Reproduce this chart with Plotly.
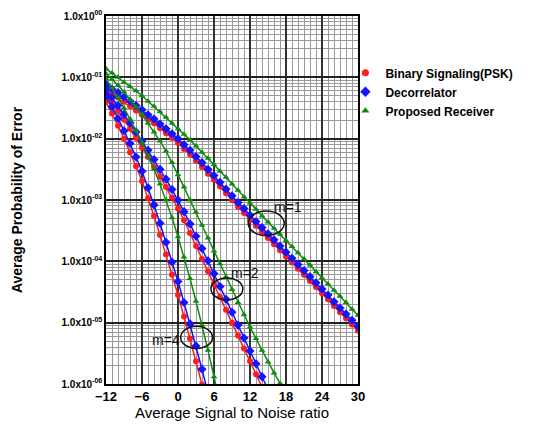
import plotly.graph_objects as go

# SNR grid (dB) for each series
snr_m1 = list(range(-12, 31))
snr_m2_psk = list(range(-12, 15))
snr_m2_dec = list(range(-12, 16))
snr_m2_prop = list(range(-12, 19))
snr_m4_psk = list(range(-12, 5))
snr_m4_dec = list(range(-12, 6))
snr_m4_prop = list(range(-12, 8))

# Average probability of error, read in decades (log10 Pe) from the picture
psk_m1_log = [-1.20, -1.27, -1.33, -1.40, -1.47, -1.54, -1.61, -1.68, -1.75, -1.83,
              -1.91, -1.99, -2.07, -2.17, -2.26, -2.36, -2.46, -2.57, -2.67, -2.78,
              -2.89, -3.00, -3.11, -3.21, -3.32, -3.42, -3.52, -3.62, -3.72, -3.82,
              -3.92, -4.02, -4.12, -4.22, -4.32, -4.42, -4.52, -4.62, -4.73, -4.83,
              -4.93, -5.03, -5.13]
dec_m1_log = [-1.12, -1.19, -1.25, -1.32, -1.39, -1.46, -1.53, -1.61, -1.68, -1.76,
              -1.84, -1.92, -2.00, -2.10, -2.19, -2.29, -2.39, -2.50, -2.60, -2.71,
              -2.82, -2.93, -3.04, -3.14, -3.25, -3.35, -3.45, -3.55, -3.65, -3.75,
              -3.85, -3.95, -4.05, -4.15, -4.25, -4.35, -4.45, -4.55, -4.66, -4.76,
              -4.86, -4.96, -5.06]
prop_m1_log = [-0.86, -0.93, -1.00, -1.08, -1.15, -1.22, -1.30, -1.39, -1.47, -1.56,
               -1.65, -1.75, -1.84, -1.93, -2.02, -2.12, -2.22, -2.32, -2.42, -2.53,
               -2.63, -2.74, -2.84, -2.95, -3.05, -3.15, -3.26, -3.36, -3.46, -3.56,
               -3.66, -3.76, -3.86, -3.96, -4.06, -4.17, -4.27, -4.37, -4.47, -4.57,
               -4.67, -4.78, -4.88]

psk_m2_log = [-1.28, -1.41, -1.55, -1.69, -1.84, -1.99, -2.15, -2.30, -2.46, -2.62,
              -2.79, -2.96, -3.14, -3.33, -3.54, -3.75, -3.96, -4.16, -4.37, -4.58,
              -4.79, -5.00, -5.21, -5.42, -5.63, -5.84, -6.05]
dec_m2_log = [-1.20, -1.33, -1.46, -1.60, -1.74, -1.89, -2.04, -2.19, -2.34, -2.50,
              -2.66, -2.83, -3.00, -3.19, -3.39, -3.59, -3.79, -3.99, -4.20, -4.41,
              -4.62, -4.83, -5.04, -5.25, -5.46, -5.67, -5.88, -6.09]
prop_m2_log = [-0.94, -1.03, -1.13, -1.24, -1.36, -1.48, -1.61, -1.75, -1.89, -2.04,
               -2.20, -2.39, -2.59, -2.79, -3.00, -3.20, -3.41, -3.62, -3.83, -4.04,
               -4.25, -4.46, -4.67, -4.87, -5.07, -5.26, -5.45, -5.64, -5.82, -5.99,
               -6.18]

psk_m4_log = [-1.40, -1.59, -1.79, -2.00, -2.22, -2.45, -2.69, -2.97, -3.26, -3.57,
              -3.89, -4.22, -4.55, -4.90, -5.26, -5.63, -6.01]
dec_m4_log = [-1.30, -1.48, -1.67, -1.87, -2.08, -2.30, -2.53, -2.80, -3.08, -3.38,
              -3.69, -4.01, -4.33, -4.67, -5.02, -5.38, -5.76, -6.15]
prop_m4_log = [-1.02, -1.17, -1.33, -1.50, -1.68, -1.87, -2.07, -2.28, -2.50, -2.74,
               -3.00, -3.29, -3.60, -3.93, -4.28, -4.65, -5.04, -5.45, -5.88, -6.32]

series_names = ["Binary Signaling(PSK)", "Decorrelator", "Proposed Receiver"]
y_tick_vals = [1e0, 1e-1, 1e-2, 1e-3, 1e-4, 1e-5, 1e-6]
y_tick_text = ["1.0x10<sup>00</sup>", "1.0x10<sup>-01</sup>", "1.0x10<sup>-02</sup>",
               "1.0x10<sup>-03</sup>", "1.0x10<sup>-04</sup>", "1.0x10<sup>-05</sup>",
               "1.0x10<sup>-06</sup>"]
x_tick_vals = [-12, -6, 0, 6, 12, 18, 24, 30]

RED, BLUE, GREEN = "#ff1c1c", "#1414ff", "#128a12"
styles = {
    series_names[0]: dict(color=RED, symbol="circle", size=6),
    series_names[1]: dict(color=BLUE, symbol="diamond", size=7),
    series_names[2]: dict(color=GREEN, symbol="triangle-up", size=6),
}

def to_pe(logs):
    return [10 ** v for v in logs]

groups = [
    (series_names[0], [(snr_m1, psk_m1_log), (snr_m2_psk, psk_m2_log), (snr_m4_psk, psk_m4_log)]),
    (series_names[1], [(snr_m1, dec_m1_log), (snr_m2_dec, dec_m2_log), (snr_m4_dec, dec_m4_log)]),
    (series_names[2], [(snr_m1, prop_m1_log), (snr_m2_prop, prop_m2_log), (snr_m4_prop, prop_m4_log)]),
]

fig = go.Figure()
for name, curves in groups:
    st = styles[name]
    for xs, ls in curves:
        fig.add_trace(go.Scatter(
            x=xs, y=to_pe(ls), mode="lines+markers", name=name, legendgroup=name,
            showlegend=False,
            line=dict(color=st["color"], width=1.5),
            marker=dict(color=st["color"], symbol=st["symbol"], size=st["size"]),
        ))
    # legend entry
    fig.add_trace(go.Scatter(
        x=[None], y=[None], mode="markers", name=name, legendgroup=name,
        marker=dict(color=st["color"], symbol=st["symbol"], size=st["size"] + 1),
    ))

FONT = "Liberation Sans, Arial, sans-serif"

# ellipses marking the diversity orders
ellipses = [
    dict(x0=11.7, x1=17.7, y0=10 ** -3.18, y1=10 ** -3.58),
    dict(x0=5.5, x1=10.8, y0=10 ** -4.27, y1=10 ** -4.63),
    dict(x0=0.45, x1=5.75, y0=10 ** -5.06, y1=10 ** -5.42),
]
for e in ellipses:
    fig.add_shape(type="circle", xref="x", yref="y", line=dict(color="#111111", width=1.5), **e)

labels = [("m=1", 18.3, -3.11), ("m=2", 11.2, -4.19), ("m=4", -2.0, -5.28)]
for txt, ax_, ay_ in labels:
    fig.add_annotation(x=ax_, y=ay_, xref="x", yref="y", text=txt, showarrow=False,
                       font=dict(family=FONT, size=14, color="#111111"))

fig.update_layout(
    width=543, height=428,
    margin=dict(l=106, r=185, t=9, b=41),
    paper_bgcolor="white", plot_bgcolor="white",
    font=dict(family=FONT, color="black"),
    showlegend=True,
    legend=dict(x=0.95, y=0.885, xref="paper", yref="paper", xanchor="left", yanchor="top",
                font=dict(family=FONT, size=12, color="black", weight="bold"),
                bgcolor="rgba(0,0,0,0)", itemwidth=30, tracegroupgap=0),
)
fig.update_xaxes(
    range=[-12, 30], tickvals=x_tick_vals, ticks="",
    tickfont=dict(family=FONT, size=13, color="black", weight="bold"),
    showgrid=True, gridcolor="#333333", gridwidth=1.5,
    minor=dict(dtick=1, showgrid=True, gridcolor="#9a9a9a", gridwidth=1, ticks=""),
    showline=True, linecolor="black", linewidth=1.5, mirror=True, zeroline=False,
    title=dict(text="Average Signal to Noise ratio", standoff=4,
               font=dict(family=FONT, size=15, color="black")),
)
fig.update_yaxes(
    type="log", range=[-6, 0], tickvals=y_tick_vals, ticktext=y_tick_text, ticks="",
    tickfont=dict(family=FONT, size=10, color="black", weight="bold"),
    showgrid=True, gridcolor="#222222", gridwidth=1.5,
    minor=dict(dtick="D1", showgrid=True, gridcolor="#9a9a9a", gridwidth=1, ticks=""),
    showline=True, linecolor="black", linewidth=1.5, mirror=True, zeroline=False,
    title=dict(text="<b>Average Probability of Error</b>", standoff=36,
               font=dict(family=FONT, size=14, color="black")),
)

fig.write_html("out.html")
